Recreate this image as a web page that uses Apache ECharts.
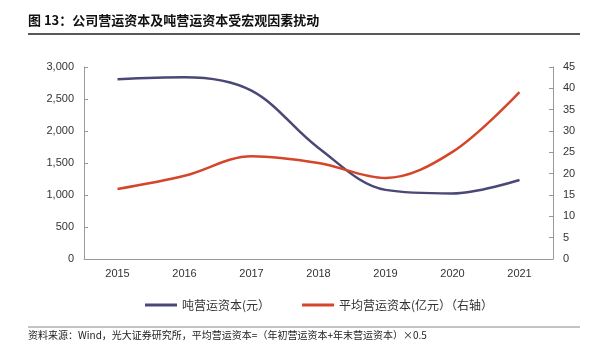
<!DOCTYPE html>
<html>
<head>
<meta charset="utf-8">
<script src="https://cdn.jsdelivr.net/npm/echarts@6/dist/echarts.min.js"></script>
<style>
  html, body { margin: 0; padding: 0; background: #fff; }
  #chart { width: 606px; height: 354px; }
</style>
</head>
<body>
<div id="chart"></div>
<script>
// 年份
var years = ["2015", "2016", "2017", "2018", "2019", "2020", "2021"];
// 吨营运资本(元)
var perTon = [2810, 2840, 2630, 1735, 1080, 1025, 1235];
// 平均营运资本(亿元)，右轴
var avgCapital = [16.4, 19.5, 24.1, 22.5, 19.0, 25.1, 39.1];

var FONT = '"Noto Sans CJK SC", "Liberation Sans", sans-serif';

var chart = echarts.init(document.getElementById("chart"));
chart.setOption({
  animation: false,
  textStyle: { fontFamily: FONT },
  grid: { left: 84, right: 53, top: 67, bottom: 95 },
  legend: {
    top: 294,
    left: 140,
    itemGap: 32,
    itemWidth: 32,
    itemHeight: 3,
    icon: "rect",
    textStyle: { fontSize: 12, color: "#333", fontFamily: FONT },
    data: ["吨营运资本(元）", "平均营运资本(亿元）（右轴）"]
  },
  xAxis: {
    type: "category",
    data: years,
    boundaryGap: true,
    axisLine: { lineStyle: { color: "#999" } },
    axisTick: { inside: true, length: 4, lineStyle: { color: "#999" } },
    axisLabel: { color: "#333", fontSize: 11, margin: 9, fontFamily: "Liberation Sans" }
  },
  yAxis: [
    {
      type: "value",
      min: 0, max: 3000, interval: 500,
      splitLine: { show: false },
      axisLine: { show: true, lineStyle: { color: "#999" } },
      axisTick: { show: true, inside: true, length: 4, lineStyle: { color: "#999" } },
      axisLabel: {
        color: "#333", fontSize: 11, margin: 10, fontFamily: "Liberation Sans",
        formatter: function (v) { return v.toLocaleString("en-US"); }
      }
    },
    {
      type: "value",
      min: 0, max: 45, interval: 5,
      splitLine: { show: false },
      axisLine: { show: true, lineStyle: { color: "#999" } },
      axisTick: { show: true, inside: true, length: 4, lineStyle: { color: "#999" } },
      axisLabel: { color: "#333", fontSize: 11, margin: 10, fontFamily: "Liberation Sans" }
    }
  ],
  series: [
    {
      name: "吨营运资本(元）",
      type: "line",
      data: perTon,
      smooth: 0.35,
      symbol: "none",
      lineStyle: { color: "#4a4876", width: 2.5 },
      itemStyle: { color: "#4a4876" }
    },
    {
      name: "平均营运资本(亿元）（右轴）",
      type: "line",
      yAxisIndex: 1,
      data: avgCapital,
      smooth: 0.35,
      symbol: "none",
      lineStyle: { color: "#d5452a", width: 2.5 },
      itemStyle: { color: "#d5452a" }
    }
  ],
  graphic: [
    {
      type: "text", left: 28, top: 14,
      style: { text: "图 13：公司营运资本及吨营运资本受宏观因素扰动", fontSize: 13, fontWeight: "bold", fill: "#111", fontFamily: FONT }
    },
    {
      type: "line", shape: { x1: 28, y1: 34, x2: 580, y2: 34 },
      style: { stroke: "#222", lineWidth: 1.5 }
    },
    {
      type: "line", shape: { x1: 28, y1: 327, x2: 580, y2: 327 },
      style: { stroke: "#888", lineWidth: 1 }
    },
    {
      type: "text", left: 28, top: 330,
      style: { text: "资料来源：Wind，光大证券研究所，平均营运资本=（年初营运资本+年末营运资本）×0.5", fontSize: 10, fill: "#222", fontFamily: FONT }
    }
  ]
});
</script>
</body>
</html>
